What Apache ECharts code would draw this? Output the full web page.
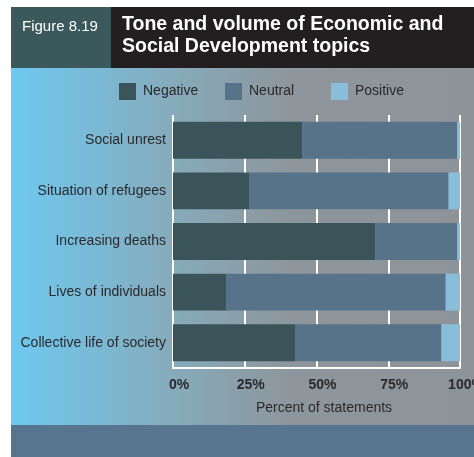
<!DOCTYPE html>
<html>
<head>
<meta charset="utf-8">
<script src="https://cdn.jsdelivr.net/npm/echarts@6/dist/echarts.min.js"></script>
<style>
html,body{margin:0;padding:0;background:#ffffff;}
#chart{width:474px;height:457px;}
</style>
</head>
<body>
<div id="chart"></div>
<script>
const categories = ['Social unrest', 'Situation of refugees', 'Increasing deaths', 'Lives of individuals', 'Collective life of society'];
const seriesNames = ['Negative', 'Neutral', 'Positive'];
const negative = [45, 26.5, 70.5, 18.5, 42.5];
const neutral = [54, 69.5, 28.5, 76.5, 51];
const positive = [1, 4, 1, 5, 6.5];
const xTicks = [0, 25, 50, 75, 100];

const FONT = '"Liberation Sans", Arial, sans-serif';
const TXT = '#2a2a2c';
const COLORS = ['#3b5459', '#567389', '#89bedb'];
const legendLefts = [119, 225, 331];

const chart = echarts.init(document.getElementById('chart'), null, {renderer: 'canvas'});

const barCommon = {type: 'bar', stack: 'total', barWidth: '73%', emphasis: {disabled: true}};

chart.setOption({
  animation: false,
  textStyle: {fontFamily: FONT},
  grid: {left: 173, right: 14, top: 115, bottom: 89, containLabel: false, outerBoundsMode: 'none'},
  legend: seriesNames.map(function (n, i) {
    return {
      left: legendLefts[i], top: 83, padding: 0,
      icon: 'rect', itemWidth: 17, itemHeight: 17,
      selectedMode: false,
      textStyle: {fontFamily: FONT, fontSize: 14, color: TXT, padding: [0, 0, 0, 2]},
      data: [n]
    };
  }),
  xAxis: {
    type: 'value', min: xTicks[0], max: xTicks[xTicks.length - 1], interval: 25,
    axisLine: {show: true, lineStyle: {color: '#ffffff', width: 2}},
    axisTick: {show: false},
    splitLine: {show: true, lineStyle: {color: '#ffffff', width: 2}},
    axisLabel: {
      formatter: function (v) { return v + '%'; },
      fontFamily: FONT, fontWeight: 'bold', fontSize: 14, color: TXT,
      margin: 10, padding: [0, 0, 0, 12]
    }
  },
  yAxis: {
    type: 'category', inverse: true, data: categories,
    axisLine: {show: false},
    axisTick: {show: false},
    axisLabel: {fontFamily: FONT, fontSize: 14, color: TXT, margin: 7}
  },
  series: [
    Object.assign({name: seriesNames[0], data: negative, itemStyle: {color: COLORS[0]}}, barCommon),
    Object.assign({name: seriesNames[1], data: neutral, itemStyle: {color: COLORS[1]}}, barCommon),
    Object.assign({name: seriesNames[2], data: positive, itemStyle: {color: COLORS[2]}}, barCommon)
  ],
  graphic: [
    {type: 'rect', z: -100, shape: {x: 11, y: 68, width: 463, height: 357},
      style: {fill: new echarts.graphic.LinearGradient(0, 0, 1, 0, [
        {offset: 0, color: '#6ec8f0'},
        {offset: 0.35, color: '#86abbb'},
        {offset: 0.6, color: '#8d969c'},
        {offset: 1, color: '#8e9398'}
      ])}},
    {type: 'rect', z: -100, shape: {x: 11, y: 425, width: 463, height: 32}, style: {fill: '#587590'}},
    {type: 'rect', z: -100, shape: {x: 11, y: 7, width: 100, height: 61}, style: {fill: '#3b585c'}},
    {type: 'rect', z: -100, shape: {x: 111, y: 7, width: 363, height: 61}, style: {fill: '#231f20'}},
    {type: 'text', z: 100, x: 22, y: 27, style: {text: 'Figure 8.19', fill: '#ffffff', font: '15px ' + FONT, textVerticalAlign: 'middle'}},
    {type: 'text', z: 100, x: 122, y: 25, style: {text: 'Tone and volume of Economic and', fill: '#ffffff', font: 'bold 19.5px ' + FONT, textVerticalAlign: 'middle'}},
    {type: 'text', z: 100, x: 122, y: 47, style: {text: 'Social Development topics', fill: '#ffffff', font: 'bold 19.5px ' + FONT, textVerticalAlign: 'middle'}},
    {type: 'text', z: 100, x: 324, y: 408, style: {text: 'Percent of statements', fill: TXT, font: '14px ' + FONT, textAlign: 'center', textVerticalAlign: 'middle'}}
  ]
});
</script>
</body>
</html>
